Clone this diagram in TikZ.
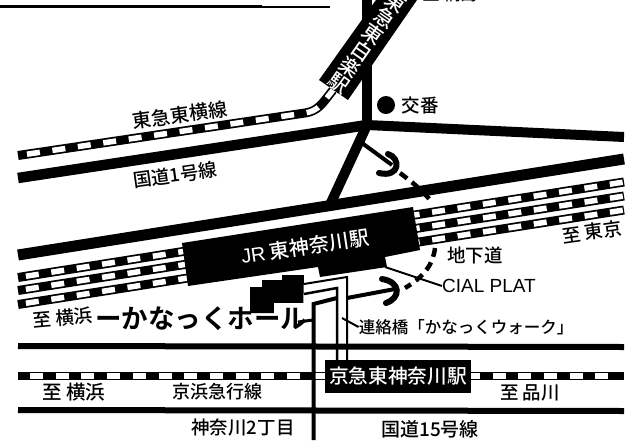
\documentclass[tikz,border=0pt]{standalone}
\usepackage{fontspec}
\setmainfont{Noto Sans CJK JP Medium}
\setsansfont{Liberation Sans}
\newfontfamily\boldjp{Noto Sans CJK JP Bold}
\tikzset{
  blk/.style={draw=black,line cap=butt},
  road/.style={blk,line width=#1},
  railb/.style={draw=black,line width=9pt},
  railw/.style={draw=white,line width=5.5pt,dash pattern=on 13pt off 12.7pt},
  lbl/.style={inner sep=0pt,font=\fontsize{#1}{#1}\selectfont},
  wlbl/.style={lbl=#1,text=white},
  ug/.style={draw=black,line width=4.5pt,dash pattern=on 9pt off 6pt},
  hook/.style={draw=black,line width=6pt,line cap=round}
}
\begin{document}
\begin{tikzpicture}[x=1pt,y=-1pt]
\useasboundingbox (0,0) rectangle (635,440);
\fill[white] (0,0) rectangle (635,440);
% top rule
\draw[road=3pt] (0,6) -- (262,6);
\draw[road=2pt] (262,7) -- (330,7);
% roads
\draw[road=10.5pt] (18,178) -- (322,132) -- (367,125);
\draw[road=10pt] (367,125) -- (624,137);
\draw[road=10pt] (367,-2) -- (367,125);
\draw[road=10pt] (367,125) -- (329,207);
\draw[road=11pt] (18,255) -- (624,159);
\draw[road=6pt] (18,346) -- (624,347);
\draw[road=6pt] (18,410) -- (624,411);
% Toyoko line
\draw[railb] (18,155.5) -- (305,113) .. controls (318,111) and (322,104) .. (333,90);
\draw[railw] (27,154.2) -- (305,113) .. controls (318,111) and (322,104) .. (333,90);
% JR rails
\foreach \a/\b in {277.5/182,290.5/196,304.5/210}{
  \draw[railb] (18,\a) -- (624,\b);
  \draw[railw,dash phase=-8pt] (18,\a) -- (624,\b);
}
% Keikyu line
\draw[railb,line width=8pt] (18,376) -- (624,376);
\draw[railw,dash pattern=on 13pt off 12.7pt] (30,376) -- (610,376);
% underground dashed walkway
\draw[ug] (400,173) .. controls (412,182) and (422,190) .. (431,201);
\draw[ug] (435,248) .. controls (433,264) and (425,276) .. (405,288);
% arrows with hooks
\draw[road=4pt] (362,143) -- (392,165);
\draw[hook] (388,154) .. controls (401,158) and (400,178) .. (379,173);
\draw[road=4pt] (347,298) -- (395,289);
\draw[hook] (382,279) .. controls (401,282) and (401,298) .. (386,303);
% station band (Higashi-Hakuraku)
\fill[black] (319,80) -- (348,100) -- (417,0) -- (376,0) -- cycle;
\node[wlbl=20,rotate=-35,align=center] (hakuraku) at (367.5,42.5) {東\\急\\東\\白\\楽\\駅};
% JR station
\fill[black] (182,243) -- (413,207) -- (420,250) -- (385,257) -- (387,267) -- (320,277) -- (318,267) -- (188,286) -- cycle;
\node[wlbl=20,rotate=8.5] (jr) at (305,247) {\textsf{JR} 東神奈川駅};
% police box
\fill[black] (386,105) circle (9);
\node[lbl=18.5] (koban) at (420,105) {交番};
% Kanagawa hall building
\fill[black] (250,287) -- (262,287) -- (262,280) -- (282,280) -- (282,275) -- (304,275) -- (303,313) -- (250,313) -- cycle;
\fill[white] (274,303) rectangle (304,314);
% bridge
\draw[road=2pt] (304,284) -- (347,277) -- (347,360);
\draw[road=2.5pt] (304,294) -- (337,288) -- (337,360);
\draw[road=4pt] (337,298) -- (313.5,304) -- (313.5,440);
\draw[road=3pt] (298,322) -- (313,320);
% hall label
\node[inner sep=0pt,font=\fontsize{26.5}{26.5}\selectfont\boldjp] (hall) at (201,319) {ーかなっくホール};
% Keikyu station
\fill[black] (325,360) rectangle (471,393);
\node[wlbl=19.7] (keikyu) at (398,376) {京急東神奈川駅};
% leaders
\node[lbl=19] (cial) at (489,286) {\textsf{CIAL PLAT}};
\draw[road=2pt] (385,267) -- (cial.west);
\node[lbl=16.5] (bridge) at (466,327) {連絡橋「かなっくウォーク」};
\draw[road=2pt] (342,318) -- (bridge.west);
% labels
\node[lbl=19,rotate=8] (toyoko) at (180,115) {東急東横線};
\node[lbl=18.5,rotate=8] (route1) at (175,175) {国道1号線};
\node[lbl=18.5] (chika) at (475,255) {地下道};
\node[lbl=18.5,rotate=8] (totokyo) at (592,232) {至 東京};
\node[lbl=18.5,rotate=5] (toyoko1) at (63,318) {至 横浜};
\node[lbl=19.5] (toyoko2) at (74,392) {至 横浜};
\node[lbl=18] (keihin) at (217,392) {京浜急行線};
\node[lbl=18.5] (toshina) at (530,393) {至 品川};
\node[lbl=18.5] (kana2) at (243,428) {神奈川2丁目};
\node[lbl=19] (route15) at (430,429) {国道15号線};
\node[lbl=17] (topcut) at (450,-6) {至 綱島};
\end{tikzpicture}
\end{document}
